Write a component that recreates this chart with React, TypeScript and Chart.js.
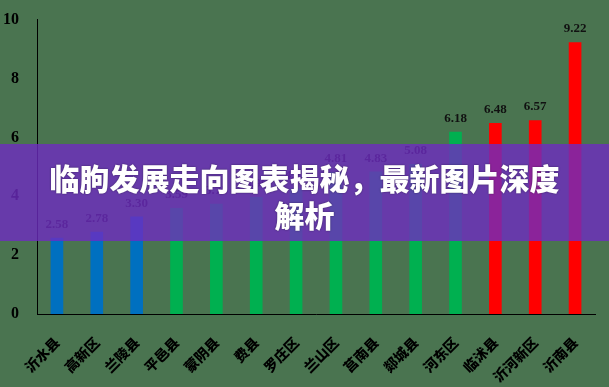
import React, { useEffect, useRef } from "react";
import { Chart, registerables } from "chart.js";

Chart.register(...registerables);

const categories = ["沂水县", "高新区", "兰陵县", "平邑县", "蒙阴县", "费县", "罗庄区", "兰山区", "莒南县", "郯城县", "河东区", "临沭县", "沂河新区", "沂南县"];
const values = [2.58, 2.78, 3.3, 3.59, 3.73, 3.96, 4.25, 4.81, 4.83, 5.08, 6.18, 6.48, 6.57, 9.22];
const barColors = ["#0070C0", "#0070C0", "#0070C0", "#00B050", "#00B050", "#00B050", "#00B050", "#00B050", "#00B050", "#00B050", "#00B050", "#FF0000", "#FF0000", "#FF0000"];
const yTicks = [0, 2, 4, 6, 8, 10];
const title = "临朐发展走向图表揭秘，最新图片深度解析";

const valueLabels = {
  id: "valueLabels",
  afterDatasetsDraw(chart: any) {
    const ctx = chart.ctx;
    const meta = chart.getDatasetMeta(0);
    ctx.save();
    ctx.font = "bold 13px 'Liberation Serif', serif";
    ctx.fillStyle = "#111";
    ctx.textAlign = "center";
    ctx.textBaseline = "bottom";
    meta.data.forEach((bar: any, i: number) => {
      const v = chart.data.datasets[0].data[i];
      ctx.fillText(Number(v).toFixed(2), bar.x, bar.y - 7);
    });
    ctx.restore();
  },
};

export default function App() {
  const ref = useRef<HTMLCanvasElement>(null);
  useEffect(() => {
    if (!ref.current) return;
    const chart = new Chart(ref.current, {
      type: "bar",
      data: {
        labels: categories,
        datasets: [
          {
            data: values,
            backgroundColor: barColors,
            barThickness: 12,
          },
        ],
      },
      options: {
        animation: false,
        responsive: false,
        maintainAspectRatio: false,
        layout: { padding: { top: 17, right: 14, left: 0, bottom: 0 } },
        plugins: { legend: { display: false }, tooltip: { enabled: false } },
        scales: {
          x: {
            grid: { display: false },
            border: { display: true, color: "#000", width: 1 },
            ticks: {
              color: "#000",
              font: { family: "'Noto Sans CJK SC', sans-serif", size: 14, weight: "900" },
              minRotation: 45,
              maxRotation: 45,
              autoSkip: false,
              padding: 12,
            },
            afterFit: (s: any) => {
              s.height = 73;
            },
          },
          y: {
            min: 0,
            max: 10,
            afterBuildTicks: (s: any) => {
              s.ticks = yTicks.map((v) => ({ value: v }));
            },
            grid: { display: false },
            border: { display: true, color: "#000", width: 1 },
            ticks: {
              color: "#000",
              font: { family: "'Liberation Serif', serif", size: 16, weight: "bold" },
              padding: 10,
            },
            afterFit: (s: any) => {
              s.width = 37;
            },
          },
        },
      },
      plugins: [valueLabels],
    });
    return () => chart.destroy();
  }, []);

  return (
    <div style={{ position: "fixed", left: 0, top: 0, width: 609, height: 387, background: "#4a7450", overflow: "hidden" }}>
      <canvas ref={ref} width={609} height={387} style={{ position: "absolute", left: 0, top: 0 }} />
      <div
        style={{
          position: "absolute",
          left: 0,
          top: 144,
          width: 609,
          height: 97,
          background: "rgba(110, 44, 192, 0.8)",
        }}
      />
      <div
        style={{
          position: "absolute",
          left: 40,
          top: 159,
          width: 529,
          textAlign: "center",
          color: "#fff",
          fontFamily: "'Noto Sans CJK SC', sans-serif",
          fontWeight: 900,
          fontSize: 30,
          lineHeight: "37px",
          textShadow: "0 0 2px rgba(0,0,0,0.45)",
        }}
      >
        {title}
      </div>
    </div>
  );
}
